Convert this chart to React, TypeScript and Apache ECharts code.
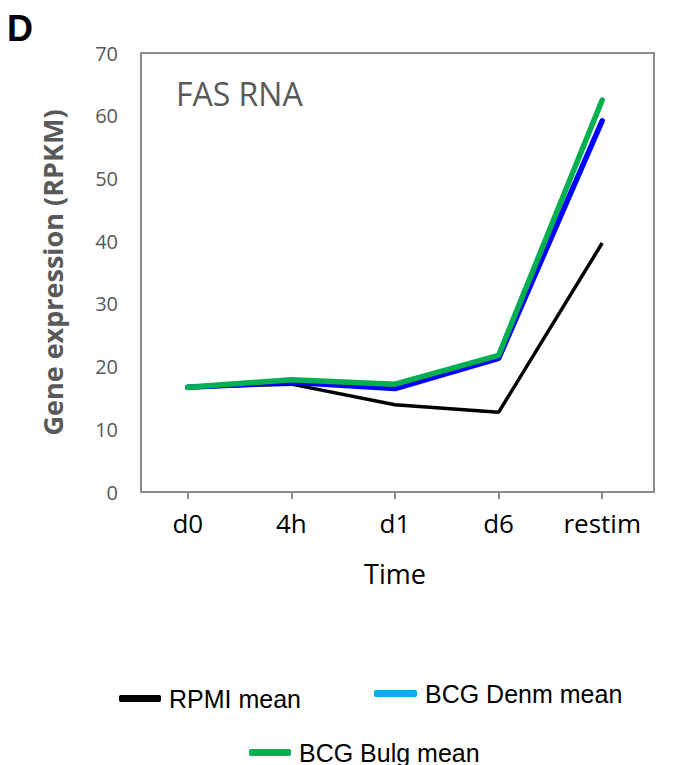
import React, { useEffect, useRef } from "react";
import * as echarts from "echarts";

const categories = ["d0", "4h", "d1", "d6", "restim"];
const rpmiMean = [16.7, 17.2, 13.9, 12.7, 39.7];
const bcgDenmMean = [16.7, 17.5, 16.5, 21.3, 59.2];
const bcgBulgMean = [16.7, 17.9, 17.2, 21.8, 62.5];
const yTicks = [0, 10, 20, 30, 40, 50, 60, 70];

export default function App() {
  const ref = useRef<HTMLDivElement>(null);
  useEffect(() => {
    if (!ref.current) return;
    const chart = echarts.init(ref.current, null, { renderer: "svg" });
    const gray = "#595959";
    const legendText = {
      fontFamily: "Liberation Sans, Arial, sans-serif",
      fontSize: 25,
      color: "#000",
      padding: [0, 0, 0, 3],
    };
    chart.setOption({
      animation: false,
      backgroundColor: "#fff",
      grid: { left: 136, top: 53, width: 518, height: 439, show: false },
      xAxis: {
        type: "category",
        data: categories,
        boundaryGap: true,
        name: "Time",
        nameLocation: "middle",
        nameGap: 68,
        nameTextStyle: { fontFamily: "Open Sans", fontSize: 27, color: "#000" },
        axisLine: { show: false },
        axisTick: { show: true, interval: 0, alignWithLabel: true, length: 7, lineStyle: { color: "#8c8c8c", width: 2 } },
        axisLabel: { interval: 0, fontFamily: "Open Sans", fontSize: 26, color: "#000", margin: 18 },
        splitLine: { show: false },
      },
      yAxis: {
        type: "value",
        min: yTicks[0],
        max: yTicks[yTicks.length - 1],
        interval: 10,
        name: "Gene expression (RPKM)",
        nameLocation: "middle",
        nameGap: 70,
        nameRotate: 90,
        nameTextStyle: { fontFamily: "Open Sans", fontSize: 27, fontWeight: "bold", color: gray },
        axisLine: { show: false },
        axisTick: { show: false },
        splitLine: { show: false },
        axisLabel: { fontFamily: "Open Sans", fontSize: 20, color: gray, margin: 18 },
      },
      legend: [
        {
          left: 114,
          top: 681,
          icon: "roundRect",
          itemWidth: 42,
          itemHeight: 7,
          textStyle: legendText,
          data: [{ name: "RPMI mean", itemStyle: { color: "#000000" } }],
        },
        {
          left: 369,
          top: 676,
          icon: "roundRect",
          itemWidth: 43,
          itemHeight: 7,
          textStyle: legendText,
          data: [{ name: "BCG Denm mean", itemStyle: { color: "#00B0F0" } }],
        },
        {
          left: 244,
          top: 735,
          icon: "roundRect",
          itemWidth: 42,
          itemHeight: 7,
          textStyle: legendText,
          data: [{ name: "BCG Bulg mean", itemStyle: { color: "#00B050" } }],
        },
      ],
      graphic: [
        {
          type: "rect",
          shape: { x: 141, y: 53, width: 513, height: 439 },
          style: { fill: "none", stroke: "#8c8c8c", lineWidth: 2 },
          z: 0,
        },
        {
          type: "text",
          left: 7,
          top: 10,
          style: { text: "D", fontFamily: "Liberation Sans, Arial, sans-serif", fontWeight: "bold", fontSize: 36, fill: "#000" },
        },
        {
          type: "text",
          left: 176,
          top: 77,
          style: { text: "FAS RNA", fontFamily: "Open Sans", fontSize: 32, fill: gray },
        },
      ],
      series: [
        {
          name: "RPMI mean",
          type: "line",
          data: rpmiMean,
          symbol: "none",
          color: "#000000",
          lineStyle: { color: "#000000", width: 3.5 },
        },
        {
          name: "BCG Denm mean",
          type: "line",
          data: bcgDenmMean,
          symbol: "none",
          color: "#0000FF",
          lineStyle: { color: "#0000FF", width: 5.5, cap: "round" },
        },
        {
          name: "BCG Bulg mean",
          type: "line",
          data: bcgBulgMean,
          symbol: "none",
          color: "#00B050",
          lineStyle: { color: "#00B050", width: 5.5, cap: "round" },
        },
      ],
    });
    return () => chart.dispose();
  }, []);
  return (
    <div
      ref={ref}
      style={{ position: "fixed", left: 0, top: 0, width: 678, height: 765 }}
    />
  );
}
